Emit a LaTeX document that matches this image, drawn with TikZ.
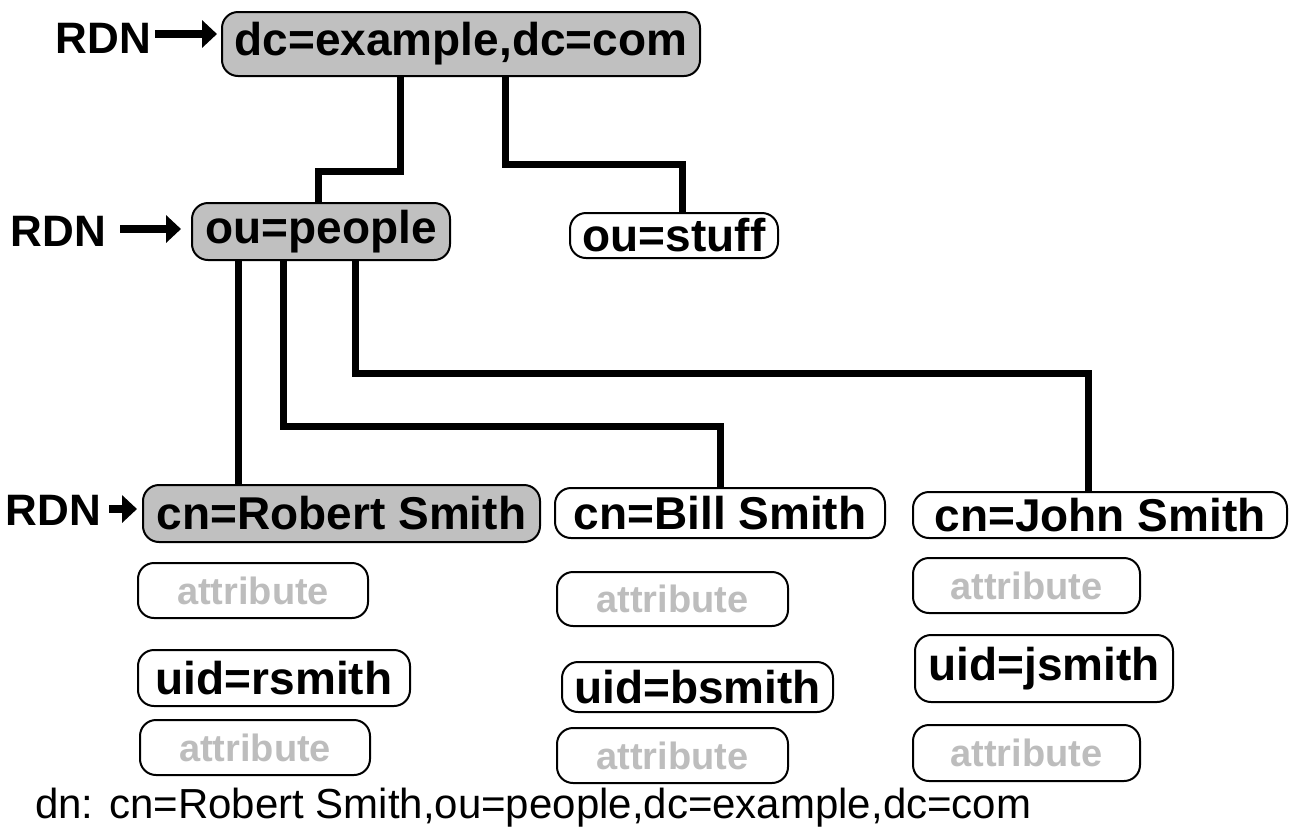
\documentclass[tikz,border=0pt]{standalone}
\usepackage{fontspec}
\setmainfont{Liberation Sans}
\usetikzlibrary{arrows.meta,calc}
\definecolor{boxgray}{HTML}{C0C0C0}
\definecolor{attrgray}{HTML}{BDBDBD}
\tikzset{
  entry/.style={draw=black, line width=2pt, rounded corners=16pt, inner sep=0pt,
    font=\bfseries\fontsize{46}{46}\selectfont, text=black},
  rdnbox/.style={entry, fill=boxgray},
  plainbox/.style={entry, fill=white},
  attrbox/.style={entry, fill=white, text=attrgray, font=\bfseries\fontsize{38}{38}\selectfont},
  conn/.style={line width=7pt, draw=black},
  rdnlabel/.style={inner sep=0pt, font=\bfseries\fontsize{44}{44}\selectfont},
  rdnarrow/.style={line width=8pt, -{Triangle[length=15pt,width=27pt]}},
  dnlabel/.style={inner sep=0pt, anchor=west, font=\fontsize{42}{42}\selectfont}
}
\begin{document}
\begin{tikzpicture}[x=1pt,y=-1pt]
\useasboundingbox[fill=white] (0,0) rectangle (1293,831);
% top
\node[rdnbox, minimum width=478pt, minimum height=64pt] (dc) at (461,44) {dc=example,dc=com};
\node[rdnbox, minimum width=258pt, minimum height=57pt] (people) at (321,231.5) {ou=people};
\node[plainbox, minimum width=208pt, minimum height=45pt] (stuff) at (674,235.5) {ou=stuff};
% persons
\node[rdnbox, minimum width=397pt, minimum height=57pt] (robert) at (341.5,513.5) {cn=Robert Smith};
\node[plainbox, minimum width=330pt, minimum height=50pt] (bill) at (720,513) {cn=Bill Smith};
\node[plainbox, minimum width=374pt, minimum height=46pt] (john) at (1100,515) {cn=John Smith};
% attributes Robert
\node[attrbox, minimum width=230pt, minimum height=55pt] (ra1) at (253,590.5) {attribute};
\node[plainbox, minimum width=272pt, minimum height=56pt] (ruid) at (274,678) {uid=rsmith};
\node[attrbox, minimum width=230pt, minimum height=55pt] (ra2) at (255,747.5) {attribute};
% attributes Bill
\node[attrbox, minimum width=231pt, minimum height=54pt] (ba1) at (672.5,599) {attribute};
\node[plainbox, minimum width=271pt, minimum height=50pt] (buid) at (697.5,687) {uid=bsmith};
\node[attrbox, minimum width=231pt, minimum height=55pt] (ba2) at (672.5,755.5) {attribute};
% attributes John
\node[attrbox, minimum width=227pt, minimum height=55pt] (ja1) at (1026.5,585.5) {attribute};
\node[plainbox, minimum width=258pt, minimum height=67pt] (juid) at (1044,668.5) {uid=jsmith};
\node[attrbox, minimum width=227pt, minimum height=56pt] (ja2) at (1026.5,753) {attribute};
% connectors
\draw[conn] ([xshift=-61pt]dc.south) -- ++(0,94) -| ([xshift=-3pt]people.north);
\draw[conn] ([xshift=44pt]dc.south) -- ++(0,87) -| ([xshift=8pt]stuff.north);
\draw[conn] ([xshift=-83pt]people.south) -- ([xshift=-103.5pt]robert.north);
\draw[conn] ([xshift=-38pt]people.south) -- ++(0,165) -| (bill.north);
\draw[conn] ([xshift=34pt]people.south) -- ++(0,112) -| ([xshift=-12pt]john.north);
% RDN labels
\node[rdnlabel, anchor=east] (rdn1) at (151,38) {RDN};
\coordinate (a1) at (155,34);
\draw[rdnarrow, shorten >=4pt] (a1) -- (a1 -| dc.west);
\node[rdnlabel, anchor=east] (rdn2) at (106,231) {RDN};
\coordinate (a2) at (120,229);
\draw[rdnarrow, shorten >=10pt] (a2) -- (a2 -| people.west);
\node[rdnlabel, anchor=east] (rdn3) at (101,510) {RDN};
\coordinate (a3) at (109,509);
\draw[rdnarrow, shorten >=5pt] (a3) -- (a3 -| robert.west);
% dn
\node[dnlabel] (dn) at (35,808) {dn: cn=Robert Smith,ou=people,dc=example,dc=com};
\end{tikzpicture}
\end{document}
